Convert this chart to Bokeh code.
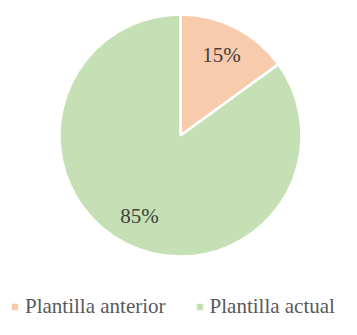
import numpy as np
from bokeh.plotting import figure
from bokeh.models import Range1d, ColumnDataSource, Legend, LegendItem
from bokeh.core.properties import value
from bokeh.embed import file_html
from bokeh.resources import INLINE

categories = ["Plantilla anterior", "Plantilla actual"]
values = [15, 85]
colors = ["#F8CBAD", "#C5E0B4"]
label_texts = ["15%", "85%"]

W, H = 341, 319
cx, cy, R = 180, H - 135, 121

frac = np.array(values, dtype=float) / sum(values)
ends_cum = np.cumsum(frac)
starts_cum = ends_cum - frac
start_angle = np.pi / 2 - 2 * np.pi * starts_cum
end_angle = np.pi / 2 - 2 * np.pi * ends_cum
mid = (start_angle + end_angle) / 2

src = ColumnDataSource(dict(
    cat=categories, start=start_angle, end=end_angle, color=colors,
    x=[cx] * len(values), y=[cy] * len(values),
    lx=cx + 0.745 * R * np.cos(mid), ly=cy + 0.745 * R * np.sin(mid),
    lab=label_texts,
))

p = figure(width=W, height=H, output_backend="svg", toolbar_location=None,
           x_range=Range1d(0, W), y_range=Range1d(0, H), min_border=0)
p.axis.visible = False
p.grid.visible = False
p.outline_line_color = None
p.background_fill_color = "white"

wr = p.wedge(x="x", y="y", radius=R, start_angle="start", end_angle="end",
             direction="clock", fill_color="color", line_color="white",
             line_width=2.5, source=src)

p.text(x="lx", y="ly", text="lab", source=src, text_align="center",
       text_baseline="middle", text_font=value("Liberation Serif"),
       text_font_size="21px", text_color="#404040")

legend = Legend(items=[LegendItem(label=c, renderers=[wr], index=i)
                       for i, c in enumerate(categories)],
                orientation="horizontal", location=(9, 0),
                glyph_width=11, glyph_height=11, label_standoff=5, spacing=28,
                padding=0, margin=0, border_line_color=None,
                background_fill_alpha=0,
                label_text_font="Liberation Serif", label_text_font_size="21px",
                label_text_color="#595959", label_height=21)
p.add_layout(legend)

open("out.html", "w").write(file_html(p, INLINE))
